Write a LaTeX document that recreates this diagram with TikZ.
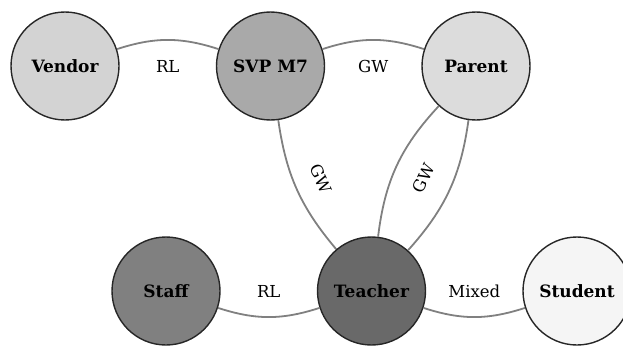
\documentclass[tikz,border=0pt]{standalone}
\usepackage{fontspec}
\setmainfont{DejaVu Serif}
\usetikzlibrary{positioning,calc}

\definecolor{vendorgray}{HTML}{D3D3D3}
\definecolor{svpgray}{HTML}{A9A9A9}
\definecolor{parentgray}{HTML}{DCDCDC}
\definecolor{staffgray}{HTML}{808080}
\definecolor{teachergray}{HTML}{696969}
\definecolor{studentgray}{HTML}{F5F5F5}
\definecolor{edgegray}{HTML}{808080}

\begin{document}
\begin{tikzpicture}[x=1pt,y=1pt,node distance=205.5pt,semithick]
\tikzstyle{actor}=[circle,draw=black!85,line width=1.4pt,minimum size=108pt,inner sep=0pt,font=\fontsize{17}{19}\selectfont\bfseries]
\tikzstyle{link}=[draw=edgegray,line width=1.8pt]
\tikzstyle{tag}=[font=\fontsize{16.5}{19}\selectfont]

\useasboundingbox (0,0) rectangle (623,-345);

\node[actor,fill=vendorgray] (vendor) at (65,-66) {Vendor};
\node[actor,fill=svpgray] (svp) [right of=vendor] {SVP M7};
\node[actor,fill=parentgray] (parent) [right of=svp] {Parent};
\node[actor,fill=staffgray] (staff) at (166,-291) {Staff};
\node[actor,fill=teachergray] (teacher) [right of=staff] {Teacher};
\node[actor,fill=studentgray] (student) [right of=teacher] {Student};

\path[link]
(vendor) edge[bend left=18] (svp)
(svp) edge[bend left=18] (parent)
(staff) edge[bend right=18] (teacher)
(teacher) edge[bend right=18] (student)
(svp) edge[bend right=16] (teacher)
(parent) edge[bend right=18] (teacher)
(parent) edge[bend left=17] (teacher);

\node[tag] (rl1) at ($(vendor)!0.5!(svp)$) {RL};
\node[tag] (gw1) at ($(svp)!0.5!(parent)$) {GW};
\node[tag] (rl2) at ($(staff)!0.5!(teacher)$) {RL};
\node[tag] (mixed) at ($(teacher)!0.5!(student)$) {Mixed};
\node[tag,rotate=-65.6] (gw2) at ($(svp)!0.5!(teacher)$) {GW};
\node[tag,rotate=65.4] (gw3) at ($(teacher)!0.5!(parent)$) {GW};
\end{tikzpicture}
\end{document}
